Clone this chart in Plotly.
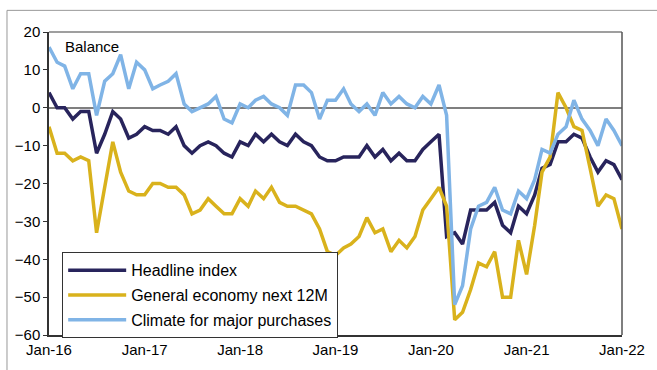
import pandas as pd
import plotly.graph_objects as go

# ---- data (monthly, Jan-16 .. Jan-22) ----
months = pd.date_range("2016-01-01", periods=73, freq="MS")

headline = [
    4, 0, 0, -3, -1, -1, -12, -7, -1, -3, -8, -7,            # 2016
    -5, -6, -6, -7, -5, -10, -12, -10, -9, -10, -12, -13,    # 2017
    -9, -10, -7, -9, -7, -9, -10, -7, -9, -10, -13, -14,     # 2018
    -14, -13, -13, -13, -10, -13, -11, -14, -12, -14, -14, -11,  # 2019
    -9, -7, -34, -33, -36, -27, -27, -27, -25, -31, -33, -26,    # 2020
    -28, -23, -16, -15, -9, -9, -7, -8, -13, -17, -14, -15,      # 2021
    -19,                                                      # 2022
]

general_economy = [
    -5, -12, -12, -14, -13, -14, -33, -21, -9, -17, -22, -23,
    -23, -20, -20, -21, -21, -23, -28, -27, -24, -26, -28, -28,
    -24, -26, -22, -24, -21, -25, -26, -26, -27, -28, -32, -38,
    -39, -37, -36, -34, -29, -33, -32, -38, -35, -37, -34, -27,
    -24, -21, -26, -56, -54, -48, -41, -42, -38, -50, -50, -35,
    -44, -31, -17, -13, 4, 0, -5, -6, -16, -26, -23, -24,
    -32,
]

major_purchases = [
    16, 12, 11, 5, 9, 9, -2, 7, 9, 14, 5, 12,
    10, 5, 6, 7, 9, 1, -1, 0, 1, 3, -3, -4,
    1, 0, 2, 3, 1, 0, -2, 6, 6, 4, -3, 2,
    2, 5, 1, -1, 1, -2, 4, 1, 3, 1, 0, 3,
    1, 6, -2, -52, -47, -32, -26, -25, -21, -27, -28, -22,
    -24, -19, -11, -12, -7, -5, 2, -3, -6, -10, -3, -6,
    -10,
]

series_names = ["Headline index", "General economy next 12M", "Climate for major purchases"]
series_values = [headline, general_economy, major_purchases]
series_colors = ["#28245C", "#D9B21C", "#80B4E6"]

tick_dates = pd.date_range("2016-01-01", "2022-01-01", freq="YS")
tick_labels = ["Jan-16", "Jan-17", "Jan-18", "Jan-19", "Jan-20", "Jan-21", "Jan-22"]

FONT = "Liberation Sans, Arial, sans-serif"

fig = go.Figure()
for name, vals, col in zip(series_names, series_values, series_colors):
    fig.add_trace(go.Scatter(
        x=months, y=vals, mode="lines", name=name,
        line=dict(color=col, width=3.5),
        legendgroup=name,
    ))

fig.update_layout(
    width=657, height=370,
    margin=dict(l=49, r=35, t=32, b=30),
    paper_bgcolor="white", plot_bgcolor="white",
    font=dict(family=FONT, size=15, color="#000000"),
    showlegend=True,
    legend=dict(
        x=0.023, y=0.273, xanchor="left", yanchor="top",
        bgcolor="white", bordercolor="#333333", borderwidth=1,
        font=dict(family=FONT, size=16, color="#000000"),
        tracegroupgap=1, itemwidth=58,
    ),
    xaxis=dict(
        range=[months[0], months[-1]],
        tickvals=tick_dates, ticktext=tick_labels,
        showgrid=False, zeroline=False,
        showline=True, linecolor="#333333", linewidth=1.5,
        ticks="", tickfont=dict(size=15),
    ),
    yaxis=dict(
        range=[-60, 20], dtick=10,
        showgrid=False,
        zeroline=True, zerolinecolor="#7F7F7F", zerolinewidth=1.5,
        showline=True, linecolor="#333333", linewidth=1.5,
        ticks="outside", ticklen=4, tickcolor="#333333",
        tickfont=dict(size=15),
    ),
    shapes=[
        # top and right plot frame
        dict(type="line", xref="paper", yref="paper", x0=0, x1=1, y0=1, y1=1,
             line=dict(color="#7F7F7F", width=1.5)),
        dict(type="line", xref="paper", yref="paper", x0=1, x1=1, y0=0, y1=1,
             line=dict(color="#555555", width=1.5)),
        # outer chart frame
        dict(type="line", xref="paper", yref="paper", x0=-0.0733, x1=1.2, y0=1.0714, y1=1.0714,
             line=dict(color="#999999", width=1)),
        dict(type="line", xref="paper", yref="paper", x0=-0.0733, x1=-0.0733, y0=-0.2, y1=1.0714,
             line=dict(color="#999999", width=1)),
    ],
    annotations=[
        dict(text="Balance", xref="paper", yref="paper", x=0.024, y=0.951,
             xanchor="left", yanchor="middle", showarrow=False,
             font=dict(family=FONT, size=15, color="#000000")),
    ],
)

fig.write_html(
    "out.html",
    config={"displayModeBar": False},
    post_script="document.body.style.margin='0';document.body.style.overflow='hidden';",
)
